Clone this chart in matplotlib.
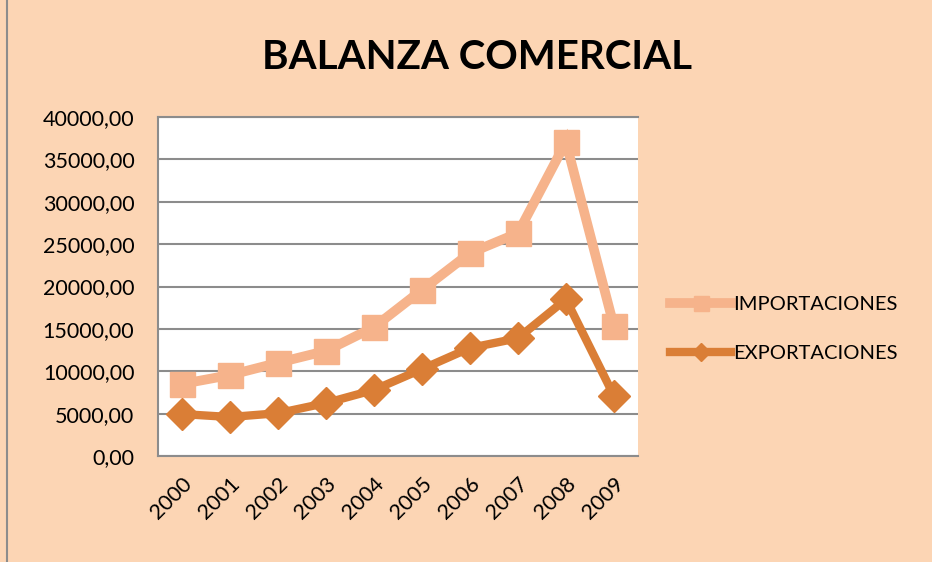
import matplotlib.pyplot as plt
from matplotlib.ticker import FuncFormatter
from matplotlib.patches import Rectangle

years = ['2000', '2001', '2002', '2003', '2004', '2005', '2006', '2007', '2008', '2009']
importaciones = [8500, 9550, 11000, 12400, 15200, 19600, 23950, 26300, 37050, 15300]
exportaciones = [4950, 4600, 5050, 6250, 7800, 10250, 12750, 13900, 18500, 7100]

bg = '#FCD5B4'
imp_color = '#F6B38B'
exp_color = '#DA7E36'

plt.rcParams['font.family'] = ['Lato', 'DejaVu Sans']

fig = plt.figure(figsize=(9.32, 5.62), dpi=100, facecolor=bg)
ax = fig.add_axes([0.1695, 0.1886, 0.515, 0.6032])
ax.set_facecolor('white')

x = list(range(len(years)))
ax.plot(x, importaciones, color=imp_color, lw=7, marker='s', ms=18,
        label='IMPORTACIONES', solid_joinstyle='miter', zorder=3)
ax.plot(x, exportaciones, color=exp_color, lw=6, marker='D', ms=16,
        label='EXPORTACIONES', solid_joinstyle='miter', zorder=4)

ax.set_xlim(-0.5, len(years) - 0.5)
ax.set_ylim(0, 40000)
ax.set_yticks(range(0, 40001, 5000))
ax.yaxis.set_major_formatter(FuncFormatter(lambda v, p: f'{v:.2f}'.replace('.', ',')))
ax.set_xticks(x)
ax.set_xticklabels(years, rotation=45, ha='right', rotation_mode='anchor')
ax.tick_params(axis='both', length=0, labelsize=15.5, colors='black')
ax.tick_params(axis='y', pad=17)
ax.tick_params(axis='x', pad=13)
ax.grid(axis='y', color='#8C8C8C', lw=1.5)
ax.set_axisbelow(True)
for s in ['left', 'bottom', 'top']:
    ax.spines[s].set_color('#8C8C8C')
    ax.spines[s].set_linewidth(1.5)
ax.spines['right'].set_visible(False)

fig.text(0.512, 0.897, 'BALANZA COMERCIAL', ha='center', va='center',
         fontsize=29, fontweight='bold')

leg = ax.legend(loc='center left', bbox_to_anchor=(1.03, 0.375), frameon=False,
                fontsize=14.5, handlelength=3.0, handletextpad=0.1,
                labelspacing=1.55, markerscale=0.6)

fig.patches.append(Rectangle((0.007, -0.01), 1.2, 1.2, transform=fig.transFigure,
                             fill=False, edgecolor='#8C8C8C', lw=1.5))

fig.savefig('out.png', dpi=100, facecolor=bg)
